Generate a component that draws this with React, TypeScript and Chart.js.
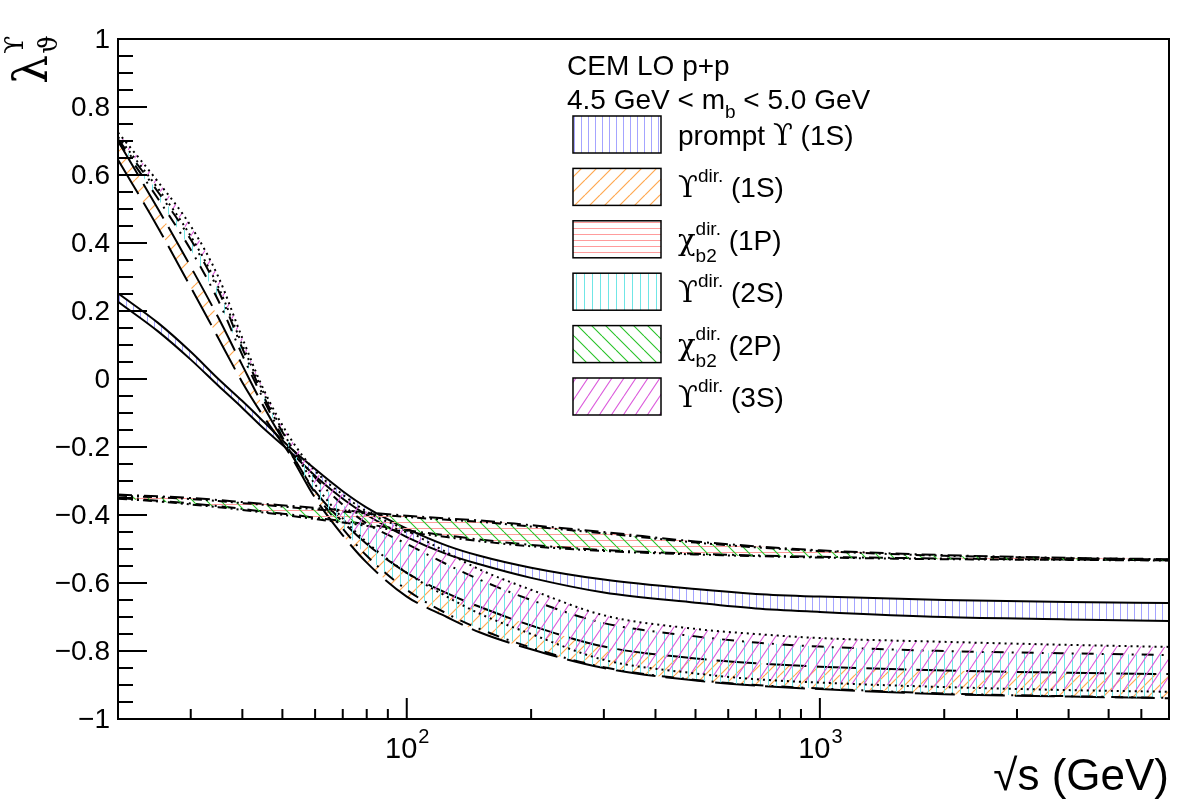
import React, { useEffect, useRef } from "react";
import { Chart, registerables } from "chart.js";

Chart.register(...registerables);

// Centre-of-mass energy grid, sqrt(s) in GeV
const sqrtS = [20, 25, 30, 35, 40, 45, 52, 60, 70, 80, 100, 125, 150, 200, 300, 500, 700, 1000, 2000, 4000, 7000];

// prompt Upsilon(1S): band edges
const promptUpper = [0.252, 0.165, 0.08, 0.0, -0.065, -0.125, -0.2, -0.265, -0.33, -0.378, -0.44, -0.49, -0.52, -0.555, -0.59, -0.618, -0.632, -0.64, -0.65, -0.656, -0.659];
const promptLower = [0.227, 0.14, 0.057, -0.02, -0.085, -0.145, -0.212, -0.285, -0.352, -0.4, -0.465, -0.515, -0.545, -0.585, -0.628, -0.658, -0.675, -0.685, -0.7, -0.707, -0.712];

// direct Upsilon(1S)
const ups1SUpper = [0.7, 0.5, 0.33, 0.18, 0.04, -0.08, -0.21, -0.33, -0.42, -0.485, -0.57, -0.63, -0.67, -0.725, -0.787, -0.822, -0.836, -0.846, -0.857, -0.864, -0.868];
const ups1SLower = [0.645, 0.445, 0.27, 0.12, -0.01, -0.11, -0.22, -0.35, -0.46, -0.54, -0.64, -0.7, -0.745, -0.795, -0.85, -0.887, -0.902, -0.912, -0.927, -0.934, -0.939];

// direct chi_b2(1P)
const chi1PUpper = [-0.34, -0.345, -0.35, -0.356, -0.362, -0.367, -0.373, -0.379, -0.386, -0.392, -0.402, -0.41, -0.416, -0.43, -0.45, -0.478, -0.492, -0.504, -0.518, -0.526, -0.53];
const chi1PLower = [-0.35, -0.358, -0.366, -0.374, -0.382, -0.39, -0.398, -0.408, -0.418, -0.427, -0.445, -0.46, -0.472, -0.488, -0.503, -0.514, -0.519, -0.523, -0.528, -0.531, -0.533];

// direct Upsilon(2S)
const ups2SUpper = [0.705, 0.55, 0.41, 0.26, 0.09, -0.05, -0.19, -0.29, -0.37, -0.425, -0.485, -0.545, -0.59, -0.65, -0.718, -0.757, -0.775, -0.787, -0.8, -0.807, -0.812];
const ups2SLower = [0.7, 0.53, 0.38, 0.23, 0.07, -0.06, -0.21, -0.335, -0.44, -0.52, -0.62, -0.69, -0.735, -0.79, -0.848, -0.885, -0.9, -0.91, -0.925, -0.933, -0.938];

// direct chi_b2(2P)
const chi2PUpper = [-0.343, -0.348, -0.353, -0.359, -0.365, -0.37, -0.377, -0.383, -0.39, -0.396, -0.406, -0.414, -0.42, -0.434, -0.454, -0.481, -0.495, -0.506, -0.52, -0.527, -0.531];
const chi2PLower = [-0.352, -0.36, -0.369, -0.377, -0.385, -0.393, -0.402, -0.412, -0.422, -0.432, -0.45, -0.465, -0.477, -0.492, -0.506, -0.516, -0.521, -0.525, -0.53, -0.532, -0.534];

// direct Upsilon(3S)
const ups3SUpper = [0.725, 0.58, 0.45, 0.3, 0.12, -0.03, -0.17, -0.27, -0.34, -0.39, -0.445, -0.51, -0.56, -0.62, -0.695, -0.735, -0.75, -0.762, -0.773, -0.782, -0.788];
const ups3SLower = [0.712, 0.56, 0.42, 0.27, 0.1, -0.04, -0.19, -0.31, -0.41, -0.48, -0.57, -0.64, -0.69, -0.75, -0.826, -0.866, -0.883, -0.893, -0.906, -0.915, -0.92];

// Axis ticks and labels
const yTickValues = [-1, -0.8, -0.6, -0.4, -0.2, 0, 0.2, 0.4, 0.6, 0.8, 1];
const yTickLabels = ["\u22121", "\u22120.8", "\u22120.6", "\u22120.4", "\u22120.2", "0", "0.2", "0.4", "0.6", "0.8", "1"];
const xMajorTicks = [100, 1000];
const xMajorExponents = ["2", "3"];
const xMinorTicks = [30, 40, 50, 60, 70, 80, 90, 200, 300, 400, 500, 600, 700, 800, 900, 2000, 3000, 4000, 5000, 6000, 7000];

// Legend entries
const legendStates = ["(1S)", "(1S)", "(1P)", "(2S)", "(2P)", "(3S)"];
const legendKinds = ["prompt", "ups", "chi", "ups", "chi", "ups"];

const SANS = "'Liberation Sans', Arial, Helvetica, sans-serif";
const GREEK = "'DejaVu Serif', 'Liberation Serif', serif";

type Seg = { t?: string; f?: string; dy?: number; sup?: string; sub?: string; sf?: string; supDy?: number; subDy?: number };

function drawRich(ctx: CanvasRenderingContext2D, x: number, y: number, segs: Seg[]) {
  let cx = x;
  for (const s of segs) {
    if (s.sup !== undefined || s.sub !== undefined) {
      ctx.font = s.sf || `19px ${SANS}`;
      let w = 0;
      if (s.sup) {
        ctx.fillText(s.sup, cx, y + (s.supDy ?? -14));
        w = Math.max(w, ctx.measureText(s.sup).width);
      }
      if (s.sub) {
        ctx.fillText(s.sub, cx, y + (s.subDy ?? 10));
        w = Math.max(w, ctx.measureText(s.sub).width);
      }
      cx += w;
    } else {
      ctx.font = s.f || `28px ${SANS}`;
      ctx.fillText(s.t || "", cx, y + (s.dy || 0));
      cx += ctx.measureText(s.t || "").width;
    }
  }
  return cx;
}

function makeHatch(base: CanvasRenderingContext2D, color: string, kind: string, w: number, h: number, lw = 1) {
  const c = document.createElement("canvas");
  c.width = w;
  c.height = h;
  const g = c.getContext("2d") as CanvasRenderingContext2D;
  g.strokeStyle = color;
  g.lineWidth = lw;
  g.beginPath();
  if (kind === "v") {
    g.moveTo(0.5, 0);
    g.lineTo(0.5, h);
  } else if (kind === "h") {
    g.moveTo(0, 0.5);
    g.lineTo(w, 0.5);
  } else if (kind === "/") {
    for (const dx of [-w, 0, w]) {
      g.moveTo(dx, h);
      g.lineTo(dx + w, 0);
    }
  } else {
    for (const dx of [-w, 0, w]) {
      g.moveTo(dx, 0);
      g.lineTo(dx + w, h);
    }
  }
  g.stroke();
  return base.createPattern(c, "repeat") as CanvasPattern;
}

export default function App() {
  const canvasRef = useRef<HTMLCanvasElement | null>(null);

  useEffect(() => {
    document.body.style.margin = "0";
    const canvas = canvasRef.current;
    if (!canvas) return;
    const base = canvas.getContext("2d") as CanvasRenderingContext2D;

    const patPrompt = makeHatch(base, "#a4a4ff", "v", 7, 7);
    const pat1S = makeHatch(base, "#ffa850", "/", 15, 15, 1.2);
    const pat1P = makeHatch(base, "#ff9c9c", "h", 6, 6);
    const pat2S = makeHatch(base, "#70e6e6", "v", 8, 8);
    const pat2P = makeHatch(base, "#28c428", "\\", 14, 14, 1.1);
    const pat3S = makeHatch(base, "#dc5cdc", "/", 12, 18, 1.1);
    const legendPats = [patPrompt, pat1S, pat1P, pat2S, pat2P, pat3S];

    const pts = (arr: number[]) => sqrtS.map((x, i) => ({ x, y: arr[i] }));

    const bands = [
      { up: promptUpper, lo: promptLower, pat: patPrompt, dash: [] as number[], order: 6 },
      { up: ups1SUpper, lo: ups1SLower, pat: pat1S, dash: [40, 10], order: 5 },
      { up: chi1PUpper, lo: chi1PLower, pat: pat1P, dash: [14, 5, 2, 5], order: 4 },
      { up: ups2SUpper, lo: ups2SLower, pat: pat2S, dash: [12, 8, 2, 8], order: 3 },
      { up: chi2PUpper, lo: chi2PLower, pat: pat2P, dash: [9, 4, 2, 4, 2, 4], order: 2 },
      { up: ups3SUpper, lo: ups3SLower, pat: pat3S, dash: [2, 4], order: 1 },
    ];

    const datasets: any[] = [];
    bands.forEach((b) => {
      const upIdx = datasets.length;
      const common = {
        borderColor: "#000",
        borderWidth: 2,
        borderDash: b.dash,
        pointRadius: 0,
        cubicInterpolationMode: "monotone",
        order: b.order,
      };
      datasets.push({ ...common, data: pts(b.up), fill: false });
      datasets.push({
        ...common,
        data: pts(b.lo),
        backgroundColor: b.pat,
        fill: { target: upIdx, above: b.pat, below: b.pat },
      });
    });

    const decor = {
      id: "rootDecor",
      afterDraw(chart: any) {
        const ctx = chart.ctx as CanvasRenderingContext2D;
        const a = chart.chartArea;
        const xs = chart.scales.x;
        const ys = chart.scales.y;
        ctx.save();
        ctx.strokeStyle = "#000";
        ctx.fillStyle = "#000";
        ctx.lineWidth = 2;
        ctx.strokeRect(a.left, a.top, a.right - a.left, a.bottom - a.top);

        // ticks
        ctx.beginPath();
        for (let i = -20; i <= 20; i++) {
          const y = ys.getPixelForValue(i * 0.05);
          const len = i % 4 === 0 ? 29 : 15;
          ctx.moveTo(a.left, y);
          ctx.lineTo(a.left + len, y);
        }
        for (const v of xMinorTicks) {
          const x = xs.getPixelForValue(v);
          ctx.moveTo(x, a.bottom);
          ctx.lineTo(x, a.bottom - 10);
        }
        for (const v of xMajorTicks) {
          const x = xs.getPixelForValue(v);
          ctx.moveTo(x, a.bottom);
          ctx.lineTo(x, a.bottom - 21);
        }
        ctx.stroke();

        // y tick labels
        ctx.font = `28px ${SANS}`;
        ctx.textAlign = "right";
        ctx.textBaseline = "middle";
        yTickValues.forEach((v, i) => {
          ctx.fillText(yTickLabels[i], a.left - 8, ys.getPixelForValue(v) + 1);
        });

        // x tick labels: 10^n
        ctx.textAlign = "left";
        ctx.textBaseline = "alphabetic";
        xMajorTicks.forEach((v, i) => {
          const x = xs.getPixelForValue(v);
          ctx.font = `29px ${SANS}`;
          const w1 = ctx.measureText("10").width;
          ctx.font = `20px ${SANS}`;
          const w2 = ctx.measureText(xMajorExponents[i]).width;
          const x0 = x - (w1 + w2) / 2;
          ctx.font = `29px ${SANS}`;
          ctx.fillText("10", x0, 758);
          ctx.font = `20px ${SANS}`;
          ctx.fillText(xMajorExponents[i], x0 + w1 + 1, 743);
        });

        // x axis title
        ctx.font = `44px ${SANS}`;
        ctx.textAlign = "right";
        ctx.fillText("\u221As (GeV)", a.right, 790);

        // y axis title: lambda_theta^Upsilon
        ctx.save();
        ctx.translate(47, 84);
        ctx.rotate(-Math.PI / 2);
        ctx.textAlign = "left";
        ctx.font = `46px ${GREEK}`;
        ctx.fillText("\u03BB", 0, 0);
        const lw = ctx.measureText("\u03BB").width;
        ctx.font = `26px ${GREEK}`;
        ctx.fillText("\u03D2", lw + 1, -24);
        ctx.fillText("\u03D1", lw + 1, 10);
        ctx.restore();

        // header text
        ctx.textAlign = "left";
        drawRich(ctx, 567, 75, [{ t: "CEM LO p+p" }]);
        drawRich(ctx, 567, 109, [
          { t: "4.5 GeV < m" },
          { sub: "b", subDy: 9, sf: `19px ${SANS}` },
          { t: " < 5.0 GeV" },
        ]);

        // legend
        for (let i = 0; i < legendStates.length; i++) {
          const top = 116 + i * 52.4;
          ctx.fillStyle = legendPats[i];
          ctx.fillRect(573, top, 88, 37);
          ctx.strokeStyle = "#000";
          ctx.lineWidth = 1.5;
          ctx.strokeRect(573, top, 88, 37);
          ctx.fillStyle = "#000";
          const baseY = top + 29;
          const kind = legendKinds[i];
          if (kind === "prompt") {
            drawRich(ctx, 678, baseY, [
              { t: "prompt " },
              { t: "\u03D2", f: `29px ${GREEK}` },
              { t: " " + legendStates[i] },
            ]);
          } else if (kind === "ups") {
            drawRich(ctx, 678, baseY, [
              { t: "\u03D2", f: `29px ${GREEK}` },
              { sup: "dir.", supDy: -15 },
              { t: " " + legendStates[i] },
            ]);
          } else {
            drawRich(ctx, 678, baseY, [
              { t: "\u03C7", f: `29px ${GREEK}` },
              { sup: "dir.", sub: "b2", supDy: -15, subDy: 12 },
              { t: " " + legendStates[i] },
            ]);
          }
        }
        ctx.restore();
      },
    };

    const chart = new Chart(canvas, {
      type: "line",
      data: { datasets },
      options: {
        animation: false,
        responsive: false,
        devicePixelRatio: 1,
        layout: { padding: { left: 118, top: 39, right: 13, bottom: 81 } },
        plugins: { legend: { display: false }, tooltip: { enabled: false } },
        scales: {
          x: { type: "logarithmic", min: 20, max: 7000, display: false },
          y: { type: "linear", min: -1, max: 1, display: false },
        },
      },
      plugins: [decor],
    } as any);

    return () => chart.destroy();
  }, []);

  return (
    <div style={{ width: 1182, height: 800, background: "#fff" }}>
      <canvas ref={canvasRef} width={1182} height={800} style={{ display: "block" }} />
    </div>
  );
}
